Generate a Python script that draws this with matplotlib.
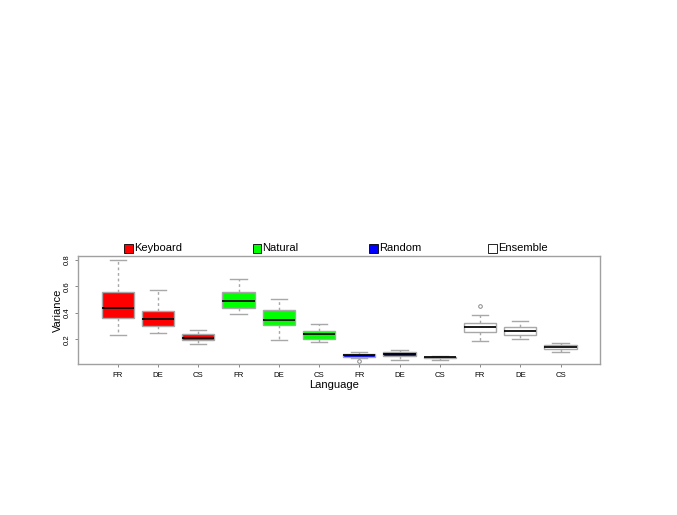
import matplotlib
matplotlib.use("Agg")
import matplotlib.pyplot as plt
from matplotlib.patches import Rectangle

plt.rcParams['font.family'] = ['Liberation Sans', 'DejaVu Sans']

# ---- data ----
groups = ["Keyboard", "Natural", "Random", "Ensemble"]
group_colors = ["#FF0000", "#00FF00", "#0000FF", "#FFFFFF"]
languages = ["FR", "DE", "CS"]

whislo = [0.235, 0.245, 0.162,  0.393, 0.195, 0.177,  0.055, 0.044, 0.042,  0.187, 0.200, 0.102]
q1     = [0.358, 0.300, 0.192,  0.439, 0.308, 0.200,  0.066, 0.076, 0.057,  0.253, 0.232, 0.129]
med    = [0.434, 0.353, 0.208,  0.487, 0.343, 0.238,  0.079, 0.089, 0.064,  0.290, 0.265, 0.140]
q3     = [0.555, 0.416, 0.243,  0.555, 0.419, 0.263,  0.091, 0.102, 0.069,  0.320, 0.290, 0.157]
whishi = [0.800, 0.570, 0.273,  0.655, 0.506, 0.318,  0.106, 0.119, 0.076,  0.386, 0.336, 0.174]
fliers = [[], [], [],  [], [], [],  [0.038], [], [],  [0.451], [], []]

tick_labels = languages * 4
box_colors = [c for c in group_colors for _ in languages]

# ---- figure ----
W, H = 677, 515
fig = plt.figure(figsize=(W / 100, H / 100), dpi=100)
L, R, T, B = 78.3, 600, 255.7, 364.3
ax = fig.add_axes([L / W, 1 - B / H, (R - L) / W, (B - T) / H])

stats = []
for i in range(len(med)):
    stats.append(dict(whislo=whislo[i], q1=q1[i], med=med[i], q3=q3[i],
                      whishi=whishi[i], fliers=fliers[i]))

edge = "#A8A8A8"
positions = list(range(1, len(med) + 1))
bp = ax.bxp(stats, positions=positions, widths=0.8, patch_artist=True,
            showfliers=True,
            boxprops=dict(edgecolor=edge, linewidth=1.0),
            medianprops=dict(color="black", linewidth=1.25),
            whiskerprops=dict(color=edge, linestyle=(0, (2, 2)), linewidth=1.0),
            capprops=dict(color=edge, linewidth=1.0),
            capwidths=0.4,
            flierprops=dict(marker="o", markersize=2.6, markerfacecolor="none",
                            markeredgecolor="#888888", markeredgewidth=0.7))
for patch, c in zip(bp["boxes"], box_colors):
    patch.set_facecolor(c)

ax.set_xlim(0.02, 12.98)
ax.set_ylim(0.011, 0.8325)
ax.set_xticks(positions)
ax.set_xticklabels(tick_labels, fontsize=5.6)
ax.set_yticks([0.2, 0.4, 0.6, 0.8])
ax.set_yticklabels(["0.2", "0.4", "0.6", "0.8"], fontsize=5.6, rotation=90, va="center")
ax.tick_params(axis="both", length=2.5, width=0.7, color="#888888", pad=3)
for s in ax.spines.values():
    s.set_color("#A0A0A0")
    s.set_linewidth(1.0)

ax.set_xlabel("Language", fontsize=8)
ax.xaxis.set_label_coords((334 - L) / (R - L), -(385 - B) / (B - T), transform=ax.transAxes)
ax.xaxis.label.set_va("center")
ax.set_ylabel("Variance", fontsize=8)
ax.yaxis.set_label_coords(-(L - 57.5) / (R - L), 0.5)
ax.yaxis.label.set_va("center")

# ---- legend row ----
sq = 8.7
legend_x = [128.7, 257.0, 373.7, 492.7]
ly = 248.3
for name, c, cx in zip(groups, group_colors, legend_x):
    fig.patches.append(Rectangle(((cx - sq / 2) / W, 1 - (ly + sq / 2) / H), sq / W, sq / H,
                                 transform=fig.transFigure, facecolor=c,
                                 edgecolor="black", linewidth=0.6))
    fig.text((cx + sq / 2 + 1) / W, 1 - ly / H, name, fontsize=8, va="center", ha="left")

fig.savefig("out.png", dpi=100)
